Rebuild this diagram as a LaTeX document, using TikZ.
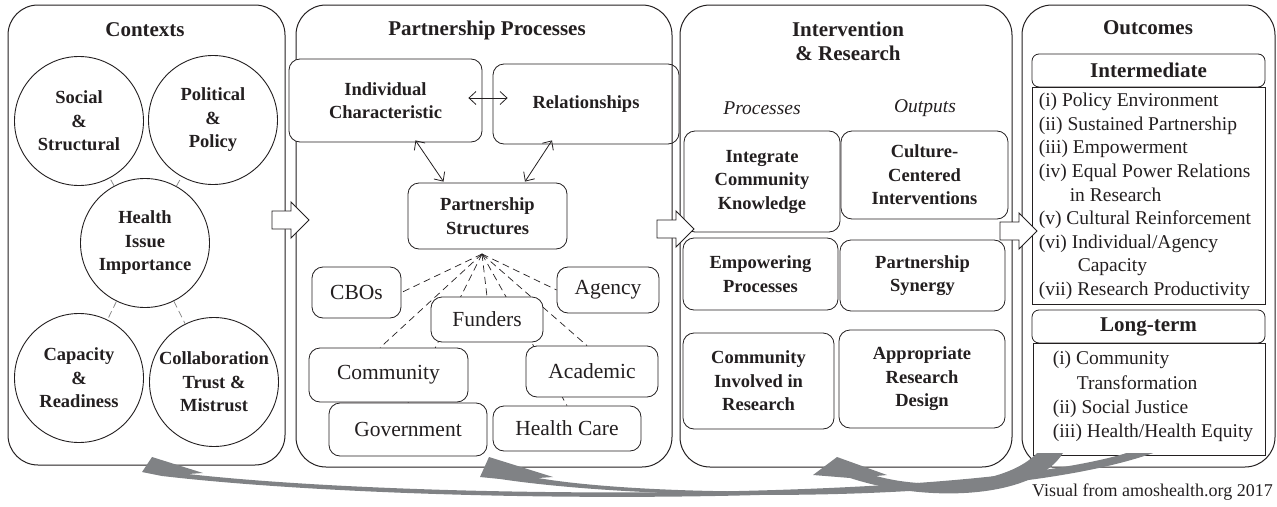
\documentclass[tikz,border=0pt]{standalone}
\usepackage{fontspec}
\setmainfont{Liberation Serif}
\usetikzlibrary{arrows.meta, backgrounds, calc}
\definecolor{ink}{RGB}{35,31,32}
\definecolor{swoosh}{RGB}{128,130,133}
\definecolor{dashgray}{RGB}{140,140,140}
\newcommand{\bxfont}{\fontsize{18.5}{23.5}\selectfont\bfseries}
\newcommand{\rgfont}{\fontsize{21.5}{25}\selectfont}
\newcommand{\lsfont}{\fontsize{19.5}{23.6}\selectfont}
\tikzset{
  >={Straight Barb[length=7pt,width=13pt]},
  panel/.style={draw=ink, line width=1pt, rounded corners=30pt},
  ptitle/.style={font=\fontsize{21}{24}\selectfont\bfseries, align=center, text=ink},
  subhead/.style={font=\fontsize{19.5}{23}\selectfont\itshape, text=ink},
  ctxcirc/.style={circle, draw=ink, line width=0.9pt, fill=white, inner sep=0pt,
    minimum size=129pt, align=center, font=\bxfont, text=ink},
  pbox/.style={draw=ink, line width=0.8pt, rounded corners=11pt, fill=white,
    inner sep=0pt, align=center, text=ink},
  boldbox/.style={pbox, font=\bxfont},
  orgbox/.style={pbox, font=\rgfont},
  hdrbox/.style={pbox, rounded corners=7pt, font=\fontsize{21}{24}\selectfont\bfseries},
  listbox/.style={draw=ink, line width=0.8pt, inner sep=0pt},
  listtext/.style={anchor=west, inner sep=0pt, align=left, text=ink},
  ctxlink/.style={draw=dashgray, line width=0.8pt, dash pattern=on 7pt off 4pt},
  orglink/.style={draw=ink, line width=0.7pt, dash pattern=on 7pt off 4.5pt},
  dbl/.style={draw=ink, line width=0.8pt, <->},
  blockarr/.style={draw=ink, line width=0.9pt, fill=white},
  swooshfill/.style={fill=swoosh, draw=none}
}

\begin{document}
\begin{tikzpicture}[x=1pt, y=-1pt]
\useasboundingbox (0,0) rectangle (1277,506);

\draw[panel] (8,5) rectangle (285,465);
\draw[panel] (296,5) rectangle (672,467);
\draw[panel] (680,5) rectangle (1012,467);
\draw[panel] (1022,5) rectangle (1275,467);

\node[ptitle] (ctxtitle) at (145,30) {Contexts};
\node[ptitle] (pptitle) at (487,30) {Partnership Processes};
\node[ptitle] (irtitle) at (848,41) {Intervention\\\& Research};
\node[ptitle] (outtitle) at (1148,28) {Outcomes};

\node[ctxcirc] (social) at (79,121) {Social\\\&\\Structural};
\node[ctxcirc] (political) at (213,120) {Political\\\&\\Policy};
\node[ctxcirc] (healthissue) at (145,243) {Health\\Issue\\Importance};
\node[ctxcirc] (capacity) at (79,378) {Capacity\\\&\\Readiness};
\node[ctxcirc] (collab) at (214,382) {Collaboration\\Trust \&\\Mistrust};
\foreach \c in {social, political, capacity, collab}
  \draw[ctxlink] (healthissue) -- (\c);

\node[boldbox, minimum width=193pt, minimum height=83pt] (indiv) at (385.5,100.5) {Individual\\Characteristic};
\node[boldbox, fill=none, minimum width=186pt, minimum height=80pt] (rel) at (586,104) {Relationships};
\node[boldbox, minimum width=159pt, minimum height=66pt] (pstruct) at (487.5,216) {Partnership\\Structures};
\draw[dbl] ([xshift=-14pt,yshift=2.5pt]indiv.east) -- ([xshift=15pt,yshift=6pt]rel.west);
\draw[dbl] ([xshift=30pt,yshift=2pt]indiv.south) -- ([xshift=-44pt,yshift=1pt]pstruct.north);
\draw[dbl] ([xshift=-34pt,yshift=4pt]rel.south) -- ([xshift=37.5pt,yshift=1pt]pstruct.north);

\coordinate (hub) at (482,254);
\node[orgbox, minimum width=89pt, minimum height=51pt] (cbos) at (356.5,292.5) {CBOs};
\node[orgbox, minimum width=102pt, minimum height=46pt] (agency) at (608,290) {Agency};
\node[orgbox, minimum width=112pt, minimum height=45pt] (funders) at (487,319.5) {Funders};
\node[orgbox, minimum width=159pt, minimum height=54pt] (community) at (388.5,375) {Community};
\node[orgbox, minimum width=132pt, minimum height=51pt] (academic) at (592,371.5) {Academic};
\node[orgbox, minimum width=158pt, minimum height=53pt] (government) at (408,429.5) {Government};
\node[orgbox, minimum width=148pt, minimum height=45pt] (healthcare) at (567,428.5) {Health Care};
\begin{scope}[on background layer]
\foreach \t in {cbos.east, community.107, government.north, funders.north, healthcare.north, academic.101, agency.west}
  \draw[orglink] (hub) -- (\t);
\end{scope}

\node[subhead] (procs) at (762,108) {Processes};
\node[subhead] (outps) at (925,108) {Outputs};
\node[boldbox, minimum width=156pt, minimum height=101pt] (integ) at (762,181.5) {Integrate\\Community\\Knowledge};
\node[boldbox, minimum width=167pt, minimum height=88pt] (culture) at (924.5,175) {Culture-\\Centered\\Interventions};
\node[boldbox, minimum width=155pt, minimum height=72pt] (empow) at (760.5,274) {Empowering\\Processes};
\node[boldbox, minimum width=165pt, minimum height=71pt] (synergy) at (922.5,275.5) {Partnership\\Synergy};
\node[boldbox, minimum width=151pt, minimum height=96pt] (involved) at (758.5,381) {Community\\Involved in\\Research};
\node[boldbox, minimum width=166pt, minimum height=98pt] (design) at (922,379) {Appropriate\\Research\\Design};

\node[hdrbox, minimum width=233pt, minimum height=33pt] (interhdr) at (1148.5,70.5) {Intermediate};
\node[listbox, minimum width=233pt, minimum height=217pt] (interlist) at (1148.5,195.5) {};
\node[listtext, font=\lsfont] (intertext) at ([xshift=7pt,yshift=-1pt]interlist.west)
  {(i) Policy Environment\\(ii) Sustained Partnership\\(iii) Empowerment\\(iv) Equal Power Relations\\
   \hspace*{31pt}in Research\\(v) Cultural Reinforcement\\(vi) Individual/Agency\\
   \hspace*{39pt}Capacity\\(vii) Research Productivity};
\node[hdrbox, minimum width=233pt, minimum height=33pt] (longhdr) at (1148.5,326.5) {Long-term};
\node[listbox, minimum width=232pt, minimum height=112pt] (longlist) at (1149,399) {};
\node[listtext, font=\fontsize{19.5}{24.3}\selectfont] (longtext) at ([xshift=20pt,yshift=2.5pt]longlist.west)
  {(i) Community\\\hspace*{24pt}Transformation\\(ii) Social Justice\\(iii) Health/Health Equity};

\draw[blockarr] (272,211) -- ++(19,0) -- ++(0,-9) -- ++(18,18) -- ++(-18,18) -- ++(0,-9) -- ++(-19,0) -- cycle;
\draw[blockarr] (657,220) -- ++(19,0) -- ++(0,-9) -- ++(18,18) -- ++(-18,18) -- ++(0,-9) -- ++(-19,0) -- cycle;
\draw[blockarr] (1000,222) -- ++(19,0) -- ++(0,-9) -- ++(18,18) -- ++(-18,18) -- ++(0,-9) -- ++(-19,0) -- cycle;

\fill[swooshfill] (142,472) -- (152,457) -- (203,473) -- (188,474)
  .. controls (420,500) and (960,503) .. (1127,453) -- (1153,453)
  .. controls (985,508) and (420,506) .. (162,476) -- cycle;
\fill[swooshfill] (480,477) -- (489,457) -- (553,477) -- (538,478)
  .. controls (660,499) and (1000,499) .. (1127,453) -- (1153,453)
  .. controls (1010,504) and (660,503) .. (500,479) -- cycle;
\fill[swooshfill] (813,475) -- (837,457) -- (887,475) -- (876,476)
  .. controls (935,492) and (1010,482) .. (1037,453) -- (1063,453)
  .. controls (1035,498) and (930,504) .. (850,478) -- cycle;

\node[anchor=west, inner sep=0pt, font=\fontsize{18}{22}\selectfont, text=ink] (credit) at (1032,492) {Visual from amoshealth.org 2017};
\end{tikzpicture}
\end{document}
